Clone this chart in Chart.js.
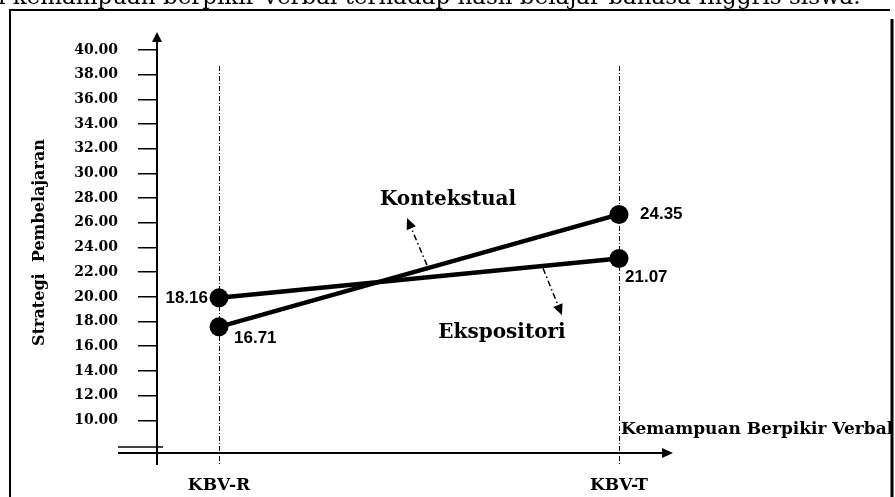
<!DOCTYPE html>
<html>
<head>
<meta charset="utf-8">
<script src="https://cdn.jsdelivr.net/npm/chart.js@4/dist/chart.umd.min.js"></script>
<style>
  body { margin: 0; background: #fff; }
  canvas { display: block; }
</style>
</head>
<body>
<canvas id="chart" width="895" height="497"></canvas>
<script>
// categories on the x axis
const categories = ['KBV-R', 'KBV-T']
const kontekstual = [17.57, 26.68]
const ekspositori = [19.92, 23.11]
// the numbers printed next to the dots
const kontekstualLabels = ['16.71', '24.35']
const ekspositoriLabels = ['18.16', '21.07']
// y axis ticks
const yTickValues = [10, 12, 14, 16, 18, 20, 22, 24, 26, 28, 30, 32, 34, 36, 38, 40]
const yTickLabels = ['10.00', '12.00', '14.00', '16.00', '18.00', '20.00', '22.00', '24.00',
  '26.00', '28.00', '30.00', '32.00', '34.00', '36.00', '38.00', '40.00']

const serif = "'DejaVu Serif', 'Liberation Serif', serif"
const sans = "'Liberation Sans', Arial, sans-serif"

// where the printed numbers go, relative to their dot (px)
const labelOffsets = {
  kontekstual: [{ dx: 15, dy: 11, align: 'left' }, { dx: 21, dy: 0, align: 'left' }],
  ekspositori: [{ dx: -11, dy: 0, align: 'right' }, { dx: 6, dy: 19, align: 'left' }]
}

// series names with dash-dot arrows, in data units
const callouts = [
  { text: 'Kontekstual', x: 0.5725, y: 27.84, from: [0.52, 22.57], to: [0.47, 26.38] },
  { text: 'Ekspositori', x: 0.7075, y: 17.05, from: [0.81, 22.32], to: [0.8575, 18.51] }
]

function arrowHead (ctx, x1, y1, x2, y2, len, half) {
  const a = Math.atan2(y2 - y1, x2 - x1)
  ctx.beginPath()
  ctx.moveTo(x2, y2)
  ctx.lineTo(x2 - len * Math.cos(a) + half * Math.sin(a), y2 - len * Math.sin(a) - half * Math.cos(a))
  ctx.lineTo(x2 - len * Math.cos(a) - half * Math.sin(a), y2 - len * Math.sin(a) + half * Math.cos(a))
  ctx.closePath()
  ctx.fill()
}

const decorations = {
  id: 'decorations',
  beforeDatasetsDraw (chart) {
    const { ctx, chartArea, scales } = chart
    const x = scales.x
    ctx.save()
    ctx.strokeStyle = '#000'
    ctx.fillStyle = '#000'

    // page text cut off above the figure
    ctx.font = '23px ' + serif
    ctx.textBaseline = 'alphabetic'
    ctx.textAlign = 'left'
    ctx.fillText('i kemampuan berpikir verbal terhadap hasil belajar bahasa Inggris siswa.', -2, 4)

    // frame
    ctx.lineWidth = 2
    ctx.beginPath()
    ctx.moveTo(10, 497)
    ctx.lineTo(10, 10)
    ctx.lineTo(890, 10)
    ctx.stroke()
    ctx.lineWidth = 3
    ctx.beginPath()
    ctx.moveTo(892, 19)
    ctx.lineTo(892, 497)
    ctx.stroke()

    // dash-dot guides at each category
    ctx.lineWidth = 1
    ctx.setLineDash([5, 2, 1, 2])
    categories.forEach((c, i) => {
      const px = Math.round(x.getPixelForValue(i)) + 0.5
      ctx.beginPath()
      ctx.moveTo(px, 66)
      ctx.lineTo(px, chartArea.bottom + 12)
      ctx.stroke()
    })
    ctx.setLineDash([])

    // axes with arrows
    const ax = chartArea.left
    const ay = chartArea.bottom
    ctx.lineWidth = 2
    ctx.beginPath()
    ctx.moveTo(ax, ay + 12)
    ctx.lineTo(ax, chartArea.top + 8)
    ctx.stroke()
    arrowHead(ctx, ax, ay, ax, chartArea.top, 10, 5)
    ctx.beginPath()
    ctx.moveTo(118, ay)
    ctx.lineTo(chartArea.right - 8, ay)
    ctx.stroke()
    arrowHead(ctx, ax, ay, chartArea.right, ay, 11, 5)
    // axis break
    ctx.lineWidth = 1.5
    ctx.beginPath()
    ctx.moveTo(118, ay - 6)
    ctx.lineTo(163, ay - 6)
    ctx.stroke()

    // x axis name
    ctx.save()
    ctx.beginPath()
    ctx.rect(0, 0, 891, 497)
    ctx.clip()
    ctx.font = 'bold 17px ' + serif
    ctx.textBaseline = 'middle'
    ctx.fillText('Kemampuan Berpikir Verbal', x.getPixelForValue(1) + 2, ay - 23)
    ctx.restore()
    ctx.restore()
  },
  afterDatasetsDraw (chart) {
    const { ctx, scales } = chart
    const x = scales.x
    const y = scales.y
    ctx.save()
    ctx.fillStyle = '#000'
    ctx.strokeStyle = '#000'

    // numbers next to the dots
    ctx.font = 'bold 17px ' + sans
    ctx.textBaseline = 'middle'
    const sets = [
      { meta: chart.getDatasetMeta(0), labels: kontekstualLabels, off: labelOffsets.kontekstual },
      { meta: chart.getDatasetMeta(1), labels: ekspositoriLabels, off: labelOffsets.ekspositori }
    ]
    sets.forEach((s) => {
      s.meta.data.forEach((pt, i) => {
        ctx.textAlign = s.off[i].align
        ctx.fillText(s.labels[i], pt.x + s.off[i].dx, pt.y + s.off[i].dy)
      })
    })

    // series callouts
    callouts.forEach((c) => {
      ctx.font = 'bold 20px ' + serif
      ctx.textAlign = 'center'
      ctx.fillText(c.text, x.getPixelForValue(c.x), y.getPixelForValue(c.y))
      const x1 = x.getPixelForValue(c.from[0])
      const y1 = y.getPixelForValue(c.from[1])
      const x2 = x.getPixelForValue(c.to[0])
      const y2 = y.getPixelForValue(c.to[1])
      const a = Math.atan2(y2 - y1, x2 - x1)
      ctx.lineWidth = 1.5
      ctx.setLineDash([6, 3, 1.5, 3])
      ctx.beginPath()
      ctx.moveTo(x1, y1)
      ctx.lineTo(x2 - 9 * Math.cos(a), y2 - 9 * Math.sin(a))
      ctx.stroke()
      ctx.setLineDash([])
      arrowHead(ctx, x1, y1, x2, y2, 11, 5)
    })
    ctx.restore()
  }
}

new Chart(document.getElementById('chart').getContext('2d'), {
  type: 'line',
  data: {
    datasets: [
      {
        label: 'Kontekstual',
        data: kontekstual.map((v, i) => ({ x: i, y: v })),
        borderColor: '#000',
        backgroundColor: '#000',
        borderWidth: 4.5,
        pointRadius: 9.5,
        pointBorderWidth: 0,
        tension: 0
      },
      {
        label: 'Ekspositori',
        data: ekspositori.map((v, i) => ({ x: i, y: v })),
        borderColor: '#000',
        backgroundColor: '#000',
        borderWidth: 4.5,
        pointRadius: 9.5,
        pointBorderWidth: 0,
        tension: 0
      }
    ]
  },
  options: {
    responsive: false,
    animation: false,
    events: [],
    layout: { padding: { left: 10, right: 222, top: 32, bottom: 0 } },
    plugins: {
      legend: { display: false },
      tooltip: { enabled: false }
    },
    scales: {
      x: {
        type: 'linear',
        min: -0.155,
        max: 1.135,
        afterBuildTicks: (scale) => { scale.ticks = categories.map((c, i) => ({ value: i })) },
        afterFit: (scale) => { scale.height = 44 },
        grid: { display: false },
        border: { display: false },
        ticks: {
          color: '#000',
          padding: 14,
          font: { family: serif, weight: 'bold', size: 17 },
          callback: (v) => categories[v]
        }
      },
      y: {
        min: 7.35,
        max: 41.46,
        afterBuildTicks: (scale) => { scale.ticks = yTickValues.map((v) => ({ value: v })) },
        afterFit: (scale) => { scale.width = 147 },
        grid: {
          display: true,
          drawOnChartArea: false,
          drawTicks: true,
          tickLength: 19,
          color: '#000',
          lineWidth: 1.5
        },
        border: { display: false },
        title: {
          display: true,
          text: 'Strategi  Pembelajaran',
          color: '#000',
          padding: { top: 20, bottom: 0 },
          font: { family: serif, weight: 'bold', size: 16 }
        },
        ticks: {
          color: '#000',
          padding: 20,
          font: { family: serif, weight: 'bold', size: 14 },
          callback: (v) => yTickLabels[yTickValues.indexOf(v)]
        }
      }
    }
  },
  plugins: [decorations]
})
</script>
</body>
</html>
